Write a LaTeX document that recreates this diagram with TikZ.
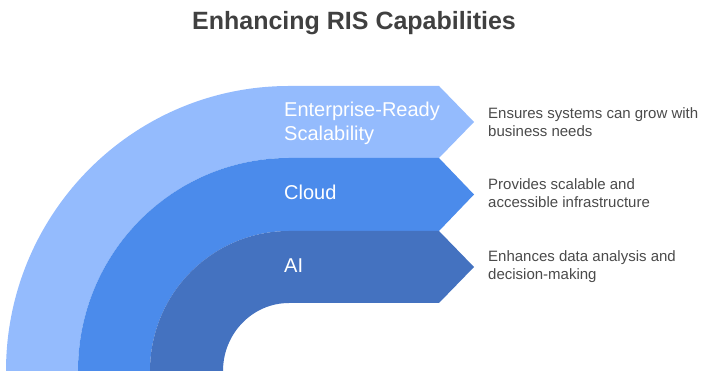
\documentclass[tikz,border=0pt]{standalone}
\usepackage{fontspec}
\setmainfont{Liberation Sans}
\definecolor{bandlight}{HTML}{94BBFD}
\definecolor{bandmid}{HTML}{4B8BEB}
\definecolor{banddark}{HTML}{4472C0}
\definecolor{desctext}{HTML}{4A4A4A}
\definecolor{titletext}{HTML}{404040}
\tikzset{
    bandlabel/.style={anchor=base west, align=left, text=white,
        font=\fontsize{20}{24}\selectfont, inner sep=0pt},
    banddesc/.style={anchor=base west, align=left, text=desctext,
        font=\fontsize{15}{18}\selectfont, inner sep=0pt}
}
% one curved band with its arrow head:
% #1,#2 outer radii, #3,#4 inner radii, #5 tip height, #6 colour
\newcommand{\curveband}[6]{%
    \fill[#6] (289-#1,0) arc[start angle=180, end angle=90, x radius=#1, y radius=#2]
        -- (439,#2) -- (474,#5) -- (439,#4) -- (289,#4)
        arc[start angle=90, end angle=180, x radius=#3, y radius=#4] -- cycle;
}
\begin{document}
\begin{tikzpicture}[x=1pt, y=1pt]
    \useasboundingbox (0,0) rectangle (711,371);

    % title
    \node[text=titletext, font=\fontsize{25}{30}\selectfont\bfseries] (title) at (354,348) {Enhancing RIS Capabilities};

    % the three bands, outer to inner
    \curveband{283}{285}{211}{213}{249}{bandlight}
    \curveband{211}{213}{139}{140}{176.5}{bandmid}
    \curveband{139}{140}{66}{68}{104}{banddark}

    % band labels (base = last line)
    \node[bandlabel] (scale) at (284,230) {Enterprise-Ready\\Scalability};
    \node[bandlabel] (cloud) at (284,171) {Cloud};
    \node[bandlabel] (ai) at (284,98) {AI};

    % descriptions
    \node[banddesc] (scaledesc) at (488,234) {Ensures systems can grow with\\business needs};
    \node[banddesc] (clouddesc) at (488,163) {Provides scalable and\\accessible infrastructure};
    \node[banddesc] (aidesc) at (488,91) {Enhances data analysis and\\decision-making};
\end{tikzpicture}
\end{document}
